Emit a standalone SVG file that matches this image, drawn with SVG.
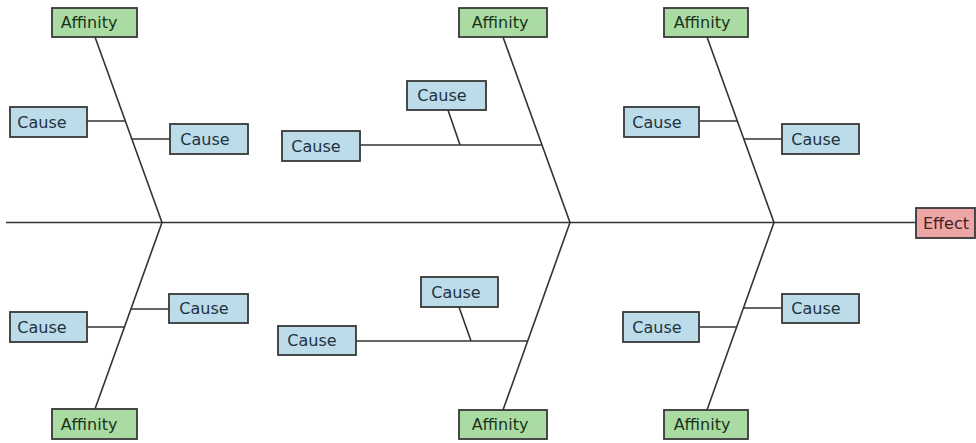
<svg xmlns="http://www.w3.org/2000/svg" width="976" height="443" viewBox="0 0 976 443">
<style>
.box{stroke:#383838;stroke-width:1.8}
.aff{fill:#a9dba3}
.cause{fill:#bddcea}
.eff{fill:#eda6a6}
text{font-family:"DejaVu Sans","Liberation Sans",sans-serif;font-size:16px;text-anchor:middle}
.ta{fill:#1a331a}
.tc{fill:#22323f}
.te{fill:#442020}
.ln{stroke:#333;stroke-width:1.6;fill:none}
</style>
<rect width="976" height="443" fill="#fff"/>
<g id="connectors">
<line class="ln" x1="6" y1="222.5" x2="916" y2="222.5"/>
<line class="ln" x1="95" y1="37" x2="162" y2="222.5"/>
<line class="ln" x1="87" y1="121" x2="125" y2="121"/>
<line class="ln" x1="132" y1="139" x2="170" y2="139"/>
<line class="ln" x1="162" y1="222.5" x2="95" y2="409"/>
<line class="ln" x1="87" y1="327" x2="124" y2="327"/>
<line class="ln" x1="131" y1="309" x2="169" y2="309"/>
<line class="ln" x1="503" y1="37" x2="570" y2="222.5"/>
<line class="ln" x1="360" y1="145" x2="542" y2="145"/>
<line class="ln" x1="448" y1="110" x2="460" y2="145"/>
<line class="ln" x1="570" y1="222.5" x2="503" y2="410"/>
<line class="ln" x1="356" y1="341" x2="527" y2="341"/>
<line class="ln" x1="459" y1="307" x2="471" y2="341"/>
<line class="ln" x1="707" y1="37" x2="774" y2="222.5"/>
<line class="ln" x1="699" y1="121" x2="737" y2="121"/>
<line class="ln" x1="744" y1="139" x2="782" y2="139"/>
<line class="ln" x1="774" y1="222.5" x2="707" y2="410"/>
<line class="ln" x1="699" y1="327" x2="737" y2="327"/>
<line class="ln" x1="743" y1="308" x2="782" y2="308"/>
</g>
<g id="effect"><rect class="box eff" x="916" y="208" width="59" height="30"/><text class="te" x="946" y="229">Effect</text></g>
<g id="aff1"><rect class="box aff" x="52" y="8" width="85" height="29"/><text class="ta" x="89" y="28">Affinity</text></g>
<g id="c1a"><rect class="box cause" x="10" y="107" width="77" height="30"/><text class="tc" x="42" y="127.5">Cause</text></g>
<g id="c1b"><rect class="box cause" x="170" y="124" width="78" height="30"/><text class="tc" x="205" y="145">Cause</text></g>
<g id="aff2"><rect class="box aff" x="52" y="409" width="85" height="30"/><text class="ta" x="89" y="430">Affinity</text></g>
<g id="c2a"><rect class="box cause" x="10" y="312" width="77" height="30"/><text class="tc" x="42" y="332.5">Cause</text></g>
<g id="c2b"><rect class="box cause" x="169" y="294" width="79" height="29"/><text class="tc" x="204" y="314">Cause</text></g>
<g id="aff3"><rect class="box aff" x="459" y="8" width="88" height="29"/><text class="ta" x="500" y="28">Affinity</text></g>
<g id="c3a"><rect class="box cause" x="407" y="81" width="79" height="29"/><text class="tc" x="442" y="101">Cause</text></g>
<g id="c3b"><rect class="box cause" x="282" y="131" width="78" height="30"/><text class="tc" x="316" y="151.5">Cause</text></g>
<g id="aff4"><rect class="box aff" x="459" y="410" width="88" height="29"/><text class="ta" x="500" y="430">Affinity</text></g>
<g id="c4a"><rect class="box cause" x="421" y="277" width="77" height="30"/><text class="tc" x="456" y="297.5">Cause</text></g>
<g id="c4b"><rect class="box cause" x="278" y="326" width="78" height="29"/><text class="tc" x="312" y="346">Cause</text></g>
<g id="aff5"><rect class="box aff" x="664" y="8" width="84" height="29"/><text class="ta" x="702" y="28">Affinity</text></g>
<g id="c5a"><rect class="box cause" x="624" y="107" width="75" height="30"/><text class="tc" x="657" y="127.5">Cause</text></g>
<g id="c5b"><rect class="box cause" x="782" y="124" width="77" height="30"/><text class="tc" x="816" y="145">Cause</text></g>
<g id="aff6"><rect class="box aff" x="664" y="410" width="84" height="29"/><text class="ta" x="702" y="430">Affinity</text></g>
<g id="c6a"><rect class="box cause" x="623" y="312" width="76" height="30"/><text class="tc" x="657" y="332.5">Cause</text></g>
<g id="c6b"><rect class="box cause" x="782" y="294" width="77" height="29"/><text class="tc" x="816" y="314">Cause</text></g>
</svg>
